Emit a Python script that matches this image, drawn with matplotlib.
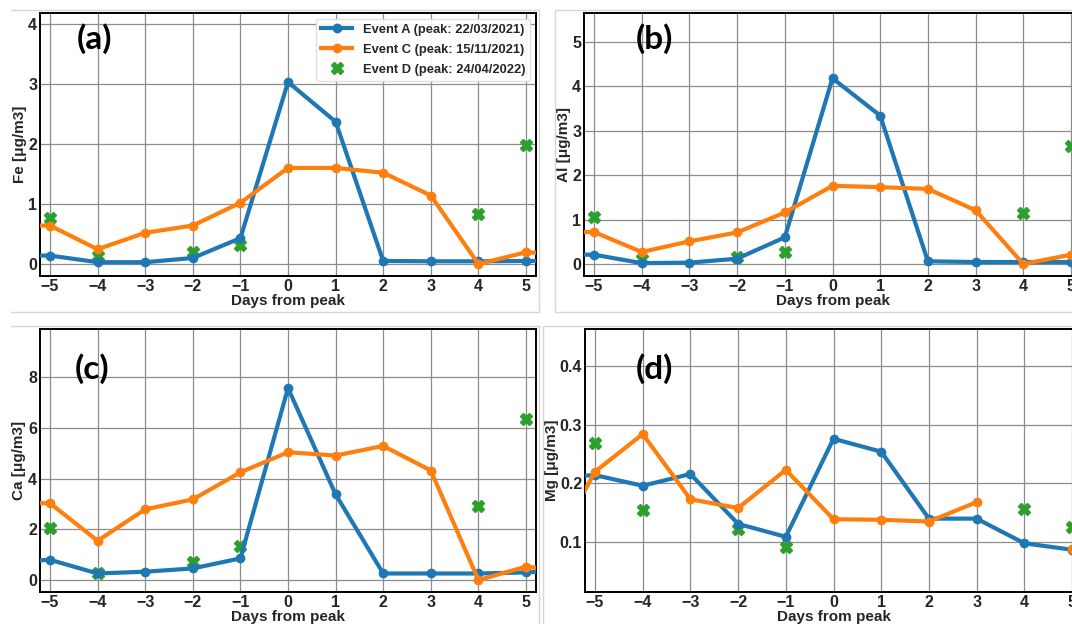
import numpy as np
import matplotlib
matplotlib.use("Agg")
import matplotlib.pyplot as plt
from matplotlib.lines import Line2D

plt.rcParams["font.family"] = ["Liberation Sans", "DejaVu Sans"]
plt.rcParams["font.weight"] = "bold"
plt.rcParams["axes.unicode_minus"] = True

days = [-6, -5, -4, -3, -2, -1, 0, 1, 2, 3, 4, 5, 6]
nan = np.nan

event_labels = [
    "Event A (peak: 22/03/2021)",
    "Event C (peak: 15/11/2021)",
    "Event D (peak: 24/04/2022)",
]

# Fe [ug/m3]
fe_a = [0.14, 0.14, 0.03, 0.03, 0.10, 0.43, 3.03, 2.37, 0.05, 0.045, 0.045, 0.05, 0.05]
fe_c = [0.64, 0.64, 0.245, 0.52, 0.64, 1.02, 1.60, 1.60, 1.52, 1.14, 0.0, 0.195, 0.16]
fe_d = [nan, 0.77, 0.13, nan, 0.20, 0.32, nan, nan, nan, nan, 0.83, 1.99, nan]

# Al [ug/m3]
al_a = [0.21, 0.21, 0.02, 0.03, 0.12, 0.60, 4.18, 3.34, 0.06, 0.045, 0.045, 0.045, nan]
al_c = [0.72, 0.72, 0.27, 0.51, 0.71, 1.16, 1.76, 1.73, 1.69, 1.21, 0.0, 0.21, nan]
al_d = [nan, 1.06, 0.11, nan, 0.15, 0.26, nan, nan, nan, nan, 1.15, 2.65, nan]

# Ca [ug/m3]
ca_a = [0.70, 0.80, 0.26, 0.33, 0.46, 0.855, 7.57, 3.38, 0.26, 0.26, 0.26, 0.30, 0.42]
ca_c = [3.05, 3.03, 1.55, 2.79, 3.18, 4.25, 5.04, 4.91, 5.29, 4.32, 0.0, 0.53, 0.33]
ca_d = [nan, 2.04, 0.26, nan, 0.70, 1.34, nan, nan, nan, nan, 2.93, 6.36, nan]

# Mg [ug/m3]
mg_a = [0.21, 0.214, 0.196, 0.216, 0.131, 0.109, 0.276, 0.254, 0.140, 0.140, 0.098, 0.087, nan]
mg_c = [0.07, 0.220, 0.284, 0.173, 0.158, 0.223, 0.139, 0.138, 0.135, 0.168, nan, 0.089, nan]
mg_d = [nan, 0.268, 0.155, nan, 0.123, 0.0915, nan, nan, nan, nan, 0.156, 0.125, nan]

W, H = 1072, 624
fig = plt.figure(figsize=(W / 100, H / 100), dpi=100)
fig.patch.set_facecolor("white")


def px_axes(left, top, right, bottom):
    return fig.add_axes([left / W, 1 - bottom / H, (right - left) / W, (bottom - top) / H])


panels = [
    dict(box=(40, 13, 536, 276), a=fe_a, c=fe_c, d=fe_d, ylab="Fe [μg/m3]",
         ylim=(-0.2, 4.18), yticks=[0, 1, 2, 3, 4], tag="(a)", tagxy=(94, 39),
         labx=-0.026, legend=True),
    dict(box=(584, 13, 1081, 276), a=al_a, c=al_c, d=al_d, ylab="Al [μg/m3]",
         ylim=(-0.27, 5.65), yticks=[0, 1, 2, 3, 4, 5], tag="(b)", tagxy=(654, 39),
         labx=-0.026, legend=False),
    dict(box=(40, 329, 536, 592), a=ca_a, c=ca_c, d=ca_d, ylab="Ca [μg/m3]",
         ylim=(-0.47, 9.9), yticks=[0, 2, 4, 6, 8], tag="(c)", tagxy=(92, 369),
         labx=-0.028, legend=False),
    dict(box=(585, 329, 1082, 592), a=mg_a, c=mg_c, d=mg_d, ylab="Mg [μg/m3]",
         ylim=(0.015, 0.463), yticks=[0.1, 0.2, 0.3, 0.4], tag="(d)", tagxy=(654, 369),
         labx=-0.052, legend=False),
]

# light frames around each panel
frame_col = "#d6d6d6"
frames = [
    [(11, 10), (539, 10), (539, 312), (11, 312)],
    [(1072, 10), (555, 10), (555, 312), (1072, 312)],
    [(11, 326), (539, 326), (539, 624)],
    [(543, 624), (543, 326), (1072, 326)],
]
for pts in frames:
    xs = [p[0] / W for p in pts]
    ys = [1 - p[1] / H for p in pts]
    fig.add_artist(Line2D(xs, ys, color=frame_col, lw=1.0, transform=fig.transFigure))

for p in panels:
    ax = px_axes(*p["box"])
    ax.set_facecolor("white")
    ax.plot(days, p["d"], linestyle="none", marker="X", markersize=8.5,
            color="#2ca02c", zorder=2)
    ax.plot(days, p["a"], color="#1f77b4", lw=3.0, marker="o", markersize=6, zorder=3)
    ax.plot(days, p["c"], color="#ff7f0e", lw=3.0, marker="o", markersize=6, zorder=4)

    ax.set_xlim(-5.21, 5.21)
    ax.set_ylim(*p["ylim"])
    ax.set_xticks(range(-5, 6))
    ax.set_yticks(p["yticks"])
    ax.grid(True, color="#8c8c8c", lw=0.9)
    ax.set_axisbelow(True)
    for s in ax.spines.values():
        s.set_color("black")
        s.set_linewidth(1.4)
    ax.tick_params(length=0, pad=2, labelsize=11.5, colors="#262626")
    for lab in ax.get_xticklabels() + ax.get_yticklabels():
        lab.set_fontweight("bold")
    ax.set_xlabel("Days from peak", fontsize=11, fontweight="bold",
                  color="#262626", labelpad=0)
    ax.set_ylabel(p["ylab"], fontsize=11, fontweight="bold", color="#262626")
    ax.yaxis.set_label_coords(p["labx"], 0.5)

    if p["legend"]:
        handles = [
            Line2D([], [], color="#1f77b4", lw=3.0, marker="o", markersize=6),
            Line2D([], [], color="#ff7f0e", lw=3.0, marker="o", markersize=6),
            Line2D([], [], color="#2ca02c", linestyle="none", marker="X", markersize=8.5),
        ]
        leg = ax.legend(handles, event_labels, loc="upper right",
                        frameon=True, fancybox=True, framealpha=0.9,
                        edgecolor="#dddddd", handlelength=2.4, labelspacing=0.6,
                        borderaxespad=0.45,
                        prop={"weight": "bold", "size": 9.3})
        for t in leg.get_texts():
            t.set_color("#262626")

    fig.text(p["tagxy"][0] / W, 1 - p["tagxy"][1] / H, p["tag"],
             fontsize=24, fontweight="bold", family=["Lato", "DejaVu Sans"],
             ha="center", va="center", color="black")

fig.savefig("out.png", dpi=100, facecolor="white")
